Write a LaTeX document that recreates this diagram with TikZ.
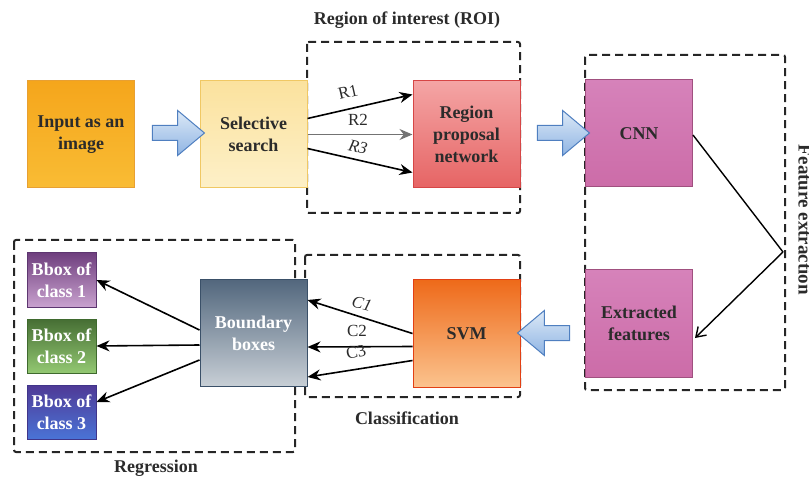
\documentclass[tikz,border=0pt]{standalone}
\usepackage{fontspec}
\setmainfont{Liberation Serif}
\usetikzlibrary{arrows.meta,calc,shapes.arrows}

\definecolor{txt}{HTML}{2B2B2B}
\definecolor{arrowfillA}{HTML}{DCE9F7}
\definecolor{arrowfillB}{HTML}{8FB4E3}
\definecolor{arrowline}{HTML}{4F7FC0}

\begin{document}
\begin{tikzpicture}[x=1pt,y=-1pt,
  box/.style={draw, line width=1pt, minimum width=107pt, minimum height=107pt,
    align=center, inner sep=2pt, text=txt,
    font=\fontsize{18}{22}\selectfont\bfseries},
  smallbox/.style={box, minimum width=69pt, minimum height=54pt, text=white},
  group/.style={draw=black!85, line width=2pt, dash pattern=on 8pt off 5pt,
    rounded corners=2pt},
  conn/.style={draw=black, line width=1.6pt, -{Stealth[length=13pt,width=11pt]}},
  thinconn/.style={conn, draw=black!55, line width=1.2pt},
  lab/.style={text=txt, inner sep=0pt, font=\fontsize{17}{20}\selectfont},
  title/.style={text=txt, inner sep=1pt, font=\fontsize{18}{22}\selectfont\bfseries},
  blockarrow/.style={single arrow, draw=arrowline, line width=1pt,
    top color=arrowfillA, bottom color=arrowfillB,
    minimum height=52pt, minimum width=44pt, inner sep=7pt,
    single arrow head extend=15pt, single arrow tip angle=80},
]
\clip (0,0) rectangle (809,481);

% dashed stage frames
\draw[group] (307,42) rectangle (520,213);
\draw[group] (585,55) rectangle (785,390);
\draw[group] (305,255) rectangle (520,397);
\draw[group] (14,240) rectangle (295,452);

% stage titles
\node[title] (tRoi) at (407,20) {Region of interest (ROI)};
\node[title] (tCls) at (407,418) {Classification};
\node[title] (tReg) at (156,468) {Regression};
\node[title, rotate=-90, font=\fontsize{19}{22}\selectfont\bfseries] (tFe) at (805,220) {Feature extraction};

% processing blocks
\node[box, draw={rgb,255:red,232;green,160;blue,50}, top color={rgb,255:red,245;green,166;blue,28},
  bottom color={rgb,255:red,249;green,188;blue,52}] (in) at (81,134.5) {Input as an\\image};
\node[box, draw={rgb,255:red,240;green,200;blue,100}, top color={rgb,255:red,251;green,226;blue,158},
  bottom color={rgb,255:red,253;green,240;blue,200}] (sel) at (253.5,134.5) {Selective\\search};
\node[box, draw={rgb,255:red,214;green,70;blue,70}, top color={rgb,255:red,244;green,165;blue,165},
  bottom color={rgb,255:red,230;green,100;blue,100}] (rpn) at (466.5,134.5) {Region\\proposal\\network};
\node[box, draw={rgb,255:red,160;green,80;blue,127}, top color={rgb,255:red,214;green,130;blue,186},
  bottom color={rgb,255:red,204;green,108;blue,168}] (cnn) at (639,133.5) {CNN};
\node[box, draw={rgb,255:red,160;green,80;blue,127}, top color={rgb,255:red,214;green,130;blue,186},
  bottom color={rgb,255:red,204;green,108;blue,168}] (feat) at (639,323.5) {Extracted\\features};
\node[box, draw={rgb,255:red,226;green,64;blue,20}, top color={rgb,255:red,238;green,106;blue,26},
  bottom color={rgb,255:red,251;green,195;blue,142}] (svm) at (466.5,333.5) {SVM};
\node[box, text=white, draw={rgb,255:red,58;green,80;blue,104}, top color={rgb,255:red,82;green,103;blue,125},
  bottom color={rgb,255:red,200;green,207;blue,214}] (bb) at (253.5,333) {Boundary\\boxes};

% per-class boxes
\node[smallbox, draw={rgb,255:red,93;green,54;blue,112}, top color={rgb,255:red,111;green,63;blue,126},
  bottom color={rgb,255:red,201;green,162;blue,207}] (b1) at (61.5,280) {Bbox of\\class 1};
\node[smallbox, draw={rgb,255:red,63;green,106;blue,46}, top color={rgb,255:red,70;green,110;blue,52},
  bottom color={rgb,255:red,147;green,200;blue,114}] (b2) at (61.5,346) {Bbox of\\class 2};
\node[smallbox, draw={rgb,255:red,64;green,53;blue,138}, top color={rgb,255:red,79;green,58;blue,150},
  bottom color={rgb,255:red,74;green,115;blue,214}] (b3) at (61.5,412) {Bbox of\\class 3};

% block arrows between stages
\node[blockarrow] (a1) at (174,133) {};
\node[blockarrow] (a2) at (559,133) {};
\node[blockarrow, shape border rotate=180] (a3) at (548,333) {};

% region proposals
\draw[conn] ($(sel.east)+(0,-16)$) -- ($(rpn.west)+(0,-40)$);
\draw[thinconn] (sel.east) -- (rpn.west);
\draw[conn] ($(sel.east)+(0,14)$) -- ($(rpn.west)+(0,38)$);
\node[lab, rotate=13] (r1) at (348,92) {R1};
\node[lab] (r2) at (358,120) {R2};
\node[lab, rotate=-13, font=\fontsize{17}{20}\selectfont\itshape] (r3) at (358,147) {R3};

% feature extraction path
\coordinate (turn) at (783,252);
\draw[line width=1.4pt] ($(cnn.east)+(0,1.5)$) -- (turn);
\draw[line width=1.4pt, -{Straight Barb[length=9pt,width=12pt]}] (turn) -- ($(feat.east)+(2,14.5)$);

% class outputs
\draw[conn] (svm.west) -- ($(bb.east)+(0,-33)$);
\draw[conn] ($(svm.west)+(0,13)$) -- ($(bb.east)+(0,14)$);
\draw[conn] ($(svm.west)+(0,27)$) -- ($(bb.east)+(0,44)$);
\node[lab, rotate=-15, font=\fontsize{17}{20}\selectfont\itshape] (c1) at (362,304) {C1};
\node[lab] (c2) at (357,331) {C2};
\node[lab, rotate=13] (c3) at (356,352) {C3};

% regression outputs
\draw[conn] ($(bb.west)+(0,-3)$) -- (b1.east);
\draw[conn] ($(bb.west)+(0,12)$) -- (b2.east);
\draw[conn] ($(bb.west)+(0,27)$) -- ($(b3.east)+(0,-10)$);
\end{tikzpicture}
\end{document}
